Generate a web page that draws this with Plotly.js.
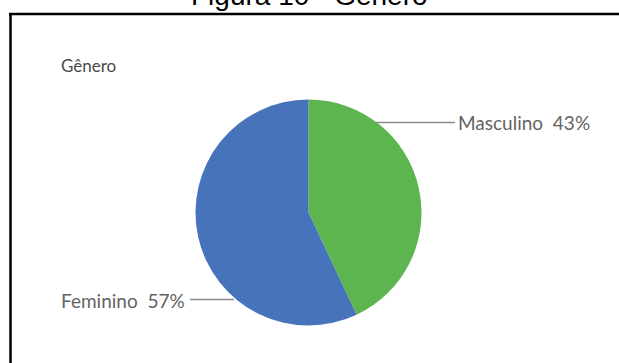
<!DOCTYPE html>
<html>
<head>
<meta charset="utf-8">
<script src="https://cdn.plot.ly/plotly-3.0.1.min.js"></script>
<style>html,body{margin:0;padding:0;background:#fff;}#chart{width:619px;height:363px;}</style>
</head>
<body>
<div id="chart"></div>
<script>
const categories = ["Masculino", "Feminino"];
const values = [43, 57];
const colors = ["#5DB550", "#4673B9"];
const figureTitle = "Figura 10 - Gênero";
const chartTitle = "Gênero";

const W = 619, H = 363;
const px = x => x / W;
const py = y => 1 - y / H;

const trace = {
  type: "pie",
  labels: categories,
  values: values,
  sort: false,
  direction: "clockwise",
  rotation: 0,
  marker: {colors: colors, line: {width: 0}},
  textinfo: "none",
  hoverinfo: "label+percent",
  showlegend: false,
  domain: {x: [px(195.5), px(421.5)], y: [py(325.5), py(99.5)]}
};

const labelFont = {family: "Lato, Open Sans, sans-serif", size: 19, color: "#636363"};
const lineStyle = {color: "#8c8c8c", width: 1.5};

const layout = {
  width: W, height: H,
  margin: {l: 0, r: 0, t: 0, b: 0},
  paper_bgcolor: "#fff",
  plot_bgcolor: "#fff",
  shapes: [
    {type: "line", xref: "paper", yref: "paper", x0: px(9), x1: px(625), y0: py(14), y1: py(14), line: {color: "#000", width: 2.5}},
    {type: "line", xref: "paper", yref: "paper", x0: px(10.5), x1: px(10.5), y0: py(13), y1: py(370), line: {color: "#000", width: 2.5}},
    {type: "line", xref: "paper", yref: "paper", x0: px(375), x1: px(455), y0: py(122.5), y1: py(122.5), line: lineStyle},
    {type: "line", xref: "paper", yref: "paper", x0: px(190), x1: px(234), y0: py(299.5), y1: py(299.5), line: lineStyle}
  ],
  annotations: [
    {text: figureTitle, xref: "paper", yref: "paper", x: px(309), y: py(-4.5), xanchor: "center", yanchor: "middle", showarrow: false,
     font: {family: "Liberation Sans, Arial, sans-serif", size: 28, color: "#000"}},
    {text: chartTitle, xref: "paper", yref: "paper", x: px(59), y: py(65), xanchor: "left", yanchor: "middle", showarrow: false,
     font: {family: "Lato, Open Sans, sans-serif", size: 17, color: "#4a4a4a"}},
    {text: categories[0] + "  " + values[0] + "%", xref: "paper", yref: "paper", x: px(456), y: py(122.5), xanchor: "left", yanchor: "middle", showarrow: false, font: labelFont},
    {text: categories[1] + "  " + values[1] + "%", xref: "paper", yref: "paper", x: px(187), y: py(300), xanchor: "right", yanchor: "middle", showarrow: false, font: labelFont}
  ]
};

Plotly.newPlot("chart", [trace], layout, {displayModeBar: false, staticPlot: true});
</script>
</body>
</html>
